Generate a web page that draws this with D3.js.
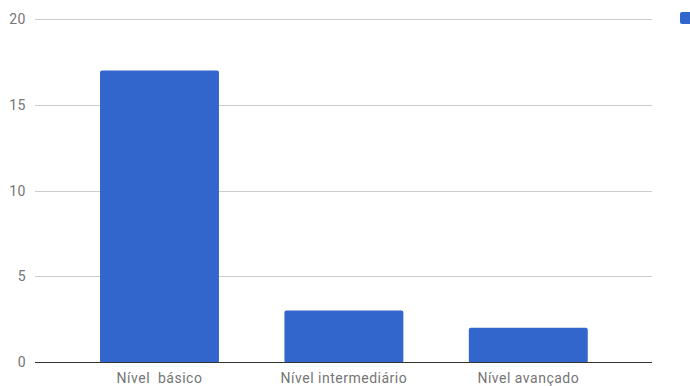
<!DOCTYPE html>
<html><head><meta charset="utf-8">
<script src="https://cdn.jsdelivr.net/npm/d3@7"></script>
<style>body{margin:0;background:#fff}svg{display:block}</style>
</head><body>
<svg id="c" width="690" height="386"></svg>
<script>
const categories = ["Nível  básico", "Nível intermediário", "Nível avançado"];
const values = [17, 3, 2];
const yTicks = [0, 5, 10, 15, 20];

const svg = d3.select("#c");
const font = "Roboto, Arial, sans-serif";
const y = d3.scaleLinear().domain([0, 20]).range([362, 19]);
const x = d3.scaleBand().domain(categories).range([67.3, 620.5]).paddingInner(0.355).paddingOuter(0.1775);
const gx0 = 35, gx1 = 652;

// gridlines
svg.append("g").selectAll("line").data(yTicks.filter(d => d !== 0)).join("line")
  .attr("x1", gx0).attr("x2", gx1)
  .attr("y1", d => Math.round(y(d)) + 0.5).attr("y2", d => Math.round(y(d)) + 0.5)
  .attr("stroke", "#cccccc").attr("stroke-width", 1);

// y labels
svg.append("g").selectAll("text").data(yTicks).join("text")
  .attr("x", 26).attr("y", d => y(d)).attr("dy", "0.36em")
  .attr("text-anchor", "end").attr("font-family", font).attr("font-size", 14)
  .attr("letter-spacing", 0.5)
  .attr("fill", "#757575").text(d => d);

// bars
svg.append("g").selectAll("rect").data(values).join("rect")
  .attr("x", (d, i) => x(categories[i])).attr("width", x.bandwidth())
  .attr("y", d => y(d)).attr("height", d => y(0) - y(d) + 1)
  .attr("rx", 2).attr("fill", "#3366cc");

// baseline
svg.append("line").attr("x1", gx0).attr("x2", gx1)
  .attr("y1", Math.round(y(0)) + 0.5).attr("y2", Math.round(y(0)) + 0.5)
  .attr("stroke", "#333333").attr("stroke-width", 1);

// x labels
svg.append("g").selectAll("text").data(categories).join("text")
  .attr("x", d => x(d) + x.bandwidth() / 2).attr("y", 383)
  .attr("text-anchor", "middle").attr("font-family", font).attr("font-size", 14)
  .attr("letter-spacing", 0.5)
  .attr("fill", "#757575").style("white-space", "pre").text(d => d);

// legend marker (cut off at right edge)
svg.append("rect").attr("x", 680).attr("y", 12).attr("width", 12).attr("height", 12)
  .attr("rx", 2).attr("fill", "#3366cc");
</script>
</body></html>
